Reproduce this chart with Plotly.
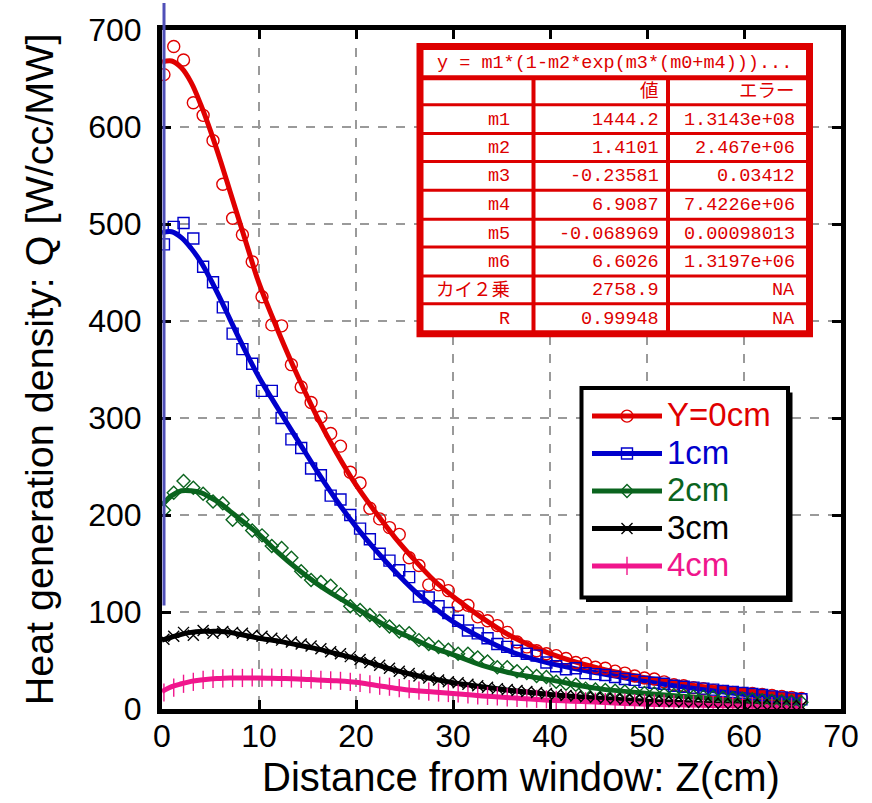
import plotly.graph_objects as go

# ---------------- data ----------------
Z = [0.2, 1.21, 2.22, 3.23, 4.24, 5.26, 6.27, 7.28, 8.29, 9.3, 10.31, 11.32, 12.33, 13.34,
     14.35, 15.37, 16.38, 17.39, 18.4, 19.41, 20.42, 21.43, 22.44, 23.45, 24.46, 25.48,
     26.49, 27.5, 28.51, 29.52, 30.53, 31.54, 32.55, 33.56, 34.57, 35.59, 36.6, 37.61,
     38.62, 39.63, 40.64, 41.65, 42.66, 43.67, 44.68, 45.7, 46.71, 47.72, 48.73, 49.74,
     50.75, 51.76, 52.77, 53.78, 54.79, 55.81, 56.82, 57.83, 58.84, 59.85, 60.86, 61.87,
     62.88, 63.89, 64.9, 65.92]

Q_Y0 = [654, 683, 669, 625, 612, 586, 541, 506, 489, 461, 425, 396, 395, 355, 332, 316,
        301, 284, 271, 244, 233, 207, 196, 187, 180, 156, 148, 128, 128, 122, 107, 107,
        95, 91, 86, 79, 69, 64, 60, 57, 55, 52, 48, 47, 43, 42, 39, 37, 34, 32, 31, 28,
        25, 24, 22, 21, 19, 18, 17, 16, 16, 15, 14, 13, 12, 11]
Q_Y1 = [479, 497, 501, 485, 456, 440, 414, 387, 371, 356, 328, 328, 300, 278, 269, 248,
        241, 220, 216, 200, 186, 175, 160, 153, 143, 136, 116, 115, 106, 99, 91, 81, 78,
        73, 67, 64, 60, 57, 55, 48, 44, 41, 42, 37, 36, 35, 33, 31, 30, 28, 27, 26, 24,
        23, 22, 21, 20, 18.5, 17.5, 16.5, 15.5, 14.5, 13, 12, 11, 10]
Q_Y2 = [205, 223, 235, 228, 222, 214, 212, 195, 195, 184, 179, 168, 166, 156, 142, 133,
        131, 127, 118, 106, 102, 97, 91, 85, 80, 78, 71, 67, 64, 61, 57, 57, 53, 49, 43,
        43, 39, 37, 34, 33, 28, 26, 25, 21, 20, 19.5, 18.7, 18, 17, 16.5, 16, 15, 14.5,
        14, 13, 12.5, 12, 11.5, 11, 10.5, 10, 9, 8.5, 8, 7.5, 7]
Q_Y3 = [72, 75, 79, 76, 81, 78, 80, 79, 78, 76, 75, 73, 71, 69, 67, 65, 62, 59, 57, 54,
        51, 48, 45, 42, 39, 36.5, 34, 32, 30, 28, 27, 25.5, 24, 22.5, 21, 20, 19, 18, 17,
        16, 15, 14, 13.5, 12.5, 12, 11, 10.5, 10, 9.5, 9, 8.5, 8, 7.5, 7, 6.8, 6.5, 6,
        5.8, 5.5, 5, 4.8, 4.5, 4, 3.8, 3.5, 3.2]
Q_Y4 = [17, 22, 26, 28, 30, 31, 31.5, 32, 32, 32.5, 32, 32.5, 32, 31.5, 31, 30.5, 30,
        29.5, 29, 28, 27, 25.5, 24, 23, 21.5, 20.5, 19, 18, 17, 16.5, 16, 15, 14, 13.5,
        13, 12, 11.5, 11, 10.5, 10, 9.5, 9, 8.5, 8, 7.5, 7, 7, 6.5, 6, 6, 5.5, 5.5, 5, 5,
        4.5, 4.5, 4, 4, 3.5, 3.5, 3, 3, 3, 2.5, 2.5, 2]

FIT_Z = [0, 1, 2, 3, 4, 5, 6, 7, 8, 9, 10, 12, 14, 16, 18, 20, 22, 24, 26, 28, 30, 33,
         36, 40, 45, 50, 55, 60, 66]
FIT_Y0 = [667, 668, 661, 646, 623, 596, 566, 534, 502, 470, 439, 389, 343, 301, 264, 231,
          203, 177, 154, 133, 116, 94, 75, 57, 42, 32, 24, 19, 13]
FIT_Y1 = [491, 492, 486, 475, 461, 443, 423, 402, 381, 361, 342, 309, 277, 245, 215, 188,
          164, 142, 122, 105, 90, 73, 59, 47, 37, 28, 21, 15, 9]
FIT_Y2 = [210, 220, 225, 225, 223, 218, 212, 204, 196, 188, 180, 161, 144, 129, 116, 104,
          92, 81, 72, 63, 56, 45, 37, 30, 21, 16, 12, 9, 6]
FIT_Y3 = [71, 74, 77, 79, 80, 80, 80, 79, 77, 75, 73, 70, 66, 62, 57, 52, 46, 40, 35, 31,
          27, 23, 19, 15, 11, 8, 6, 4.5, 3]
FIT_Y4 = [18, 23, 26, 28.5, 30, 31, 31.5, 32, 32, 32, 32, 31.5, 31, 30, 29, 27.5, 24.5,
          21.5, 19, 17.5, 16, 13.5, 11.5, 9, 7, 5, 4, 3, 2]

SERIES_NAMES = ["Y=0cm", "1cm", "2cm", "3cm", "4cm"]

FORMULA = "y = m1*(1-m2*exp(m3*(m0+m4)))..."
HEADER = ["", "値", "エラー"]
PARAM_NAMES = ["m1", "m2", "m3", "m4", "m5", "m6", "カイ２乗", "R"]
PARAM_VALUES = ["1444.2", "1.4101", "-0.23581", "6.9087", "-0.068969", "6.6026",
                "2758.9", "0.99948"]
PARAM_ERRORS = ["1.3143e+08", "2.467e+06", "0.03412", "7.4226e+06", "0.00098013",
                "1.3197e+06", "NA", "NA"]

X_TICKS = [0, 10, 20, 30, 40, 50, 60, 70]
Y_TICKS = [0, 100, 200, 300, 400, 500, 600, 700]
X_TITLE = "Distance from window: Z(cm)"
Y_TITLE = "Heat generation density: Q [W/cc/MW]"

# ---------------- style ----------------
COLORS = ["#E00000", "#0000CC", "#0A641E", "#000000", "#F0168C"]
SYMBOLS = ["circle-open", "square-open", "diamond-open", "x-thin-open", "line-ns-open"]
MSIZES = [12, 11, 10, 11, 13]
TABLE_RED = "#DD0000"
FONT = "Liberation Sans, Arial, sans-serif"
MONO = "Liberation Mono, Noto Sans CJK JP, monospace"

W, H = 872, 803
PL, PR, PT, PB = 162, 841, 27, 709


def fx(p):
    return (p - PL) / (PR - PL)


def fy(p):
    return (PB - p) / (PB - PT)


fig = go.Figure()

marker_sets = [Q_Y0, Q_Y1, Q_Y2, Q_Y3, Q_Y4]
fit_sets = [FIT_Y0, FIT_Y1, FIT_Y2, FIT_Y3, FIT_Y4]

for i in range(5):
    fig.add_trace(go.Scatter(
        x=FIT_Z, y=fit_sets[i], mode="lines",
        line=dict(color=COLORS[i], width=5, shape="spline", smoothing=1.0),
        showlegend=False, hoverinfo="skip"))
for i in range(5):
    fig.add_trace(go.Scatter(
        x=Z, y=marker_sets[i], mode="markers",
        marker=dict(symbol=SYMBOLS[i], size=MSIZES[i], color=COLORS[i],
                    line=dict(width=1.4, color=COLORS[i])),
        showlegend=False))
for i in range(5):
    fig.add_trace(go.Scatter(
        x=[None], y=[None], mode="lines+markers",
        name='<span style="color:%s;font-size:33px">%s</span>' % (COLORS[i], SERIES_NAMES[i]),
        line=dict(color=COLORS[i], width=5),
        marker=dict(symbol=SYMBOLS[i], size=MSIZES[i], color=COLORS[i],
                    line=dict(width=1.4, color=COLORS[i]))))

shapes = []
annotations = []

# blue stray vertical line
shapes.append(dict(type="line", xref="paper", yref="paper", x0=fx(164), x1=fx(164),
                   y0=fy(605), y1=fy(0), line=dict(color="#5050B8", width=3), layer="above"))

# legend frame with drop shadow
LG_L, LG_R, LG_T, LG_B = 581.5, 788, 386.5, 597
shapes.append(dict(type="rect", xref="paper", yref="paper", x0=fx(LG_L + 4.5), x1=fx(LG_R + 4.5),
                   y0=fy(LG_B + 4.5), y1=fy(LG_T + 4.5), fillcolor="black",
                   line=dict(width=0), layer="above"))
shapes.append(dict(type="rect", xref="paper", yref="paper", x0=fx(LG_L), x1=fx(LG_R),
                   y0=fy(LG_B), y1=fy(LG_T), fillcolor="white",
                   line=dict(color="black", width=4), layer="above"))

# table
T_L, T_R, T_T, T_B = 420, 809.5, 43.5, 332
ROW_LINES = [75, 102, 131, 159, 188, 217, 245, 274, 302]
COL_LINES = [533.5, 668]
shapes.append(dict(type="rect", xref="paper", yref="paper", x0=fx(T_L), x1=fx(T_R),
                   y0=fy(T_B), y1=fy(T_T), fillcolor="white",
                   line=dict(color=TABLE_RED, width=7), layer="above"))
for j, r in enumerate(ROW_LINES):
    shapes.append(dict(type="line", xref="paper", yref="paper", x0=fx(T_L), x1=fx(T_R),
                       y0=fy(r), y1=fy(r),
                       line=dict(color=TABLE_RED, width=5 if j == 0 else 3), layer="above"))
for c in COL_LINES:
    shapes.append(dict(type="line", xref="paper", yref="paper", x0=fx(c), x1=fx(c),
                       y0=fy(ROW_LINES[0]), y1=fy(T_B),
                       line=dict(color=TABLE_RED, width=4), layer="above"))

tfont = dict(family=MONO, size=18.5, color=TABLE_RED)
annotations.append(dict(text=FORMULA, xref="paper", yref="paper", x=fx((T_L + T_R) / 2), y=fy(61),
                        xanchor="center", yanchor="middle", showarrow=False, font=tfont))
row_edges = [ROW_LINES[0]] + ROW_LINES[1:] + [T_B]
col_right = [512, 661, 797]
for k, txt in enumerate(HEADER):
    if txt:
        annotations.append(dict(text=txt, xref="paper", yref="paper", x=fx(col_right[k]),
                                y=fy((row_edges[0] + row_edges[1]) / 2 + 1),
                                xanchor="right", yanchor="middle", showarrow=False, font=tfont))
for r in range(len(PARAM_NAMES)):
    yc = (row_edges[r + 1] + row_edges[r + 2]) / 2 + 1
    for k, txt in enumerate([PARAM_NAMES[r], PARAM_VALUES[r], PARAM_ERRORS[r]]):
        annotations.append(dict(text=txt, xref="paper", yref="paper", x=fx(col_right[k]), y=fy(yc),
                                xanchor="right", yanchor="middle", showarrow=False, font=tfont))

# x-axis title (placed as in the reference, slightly right of centre)
annotations.append(dict(text=X_TITLE, xref="paper", yref="paper", x=fx(521), y=fy(777),
                        xanchor="center", yanchor="middle", showarrow=False,
                        font=dict(family=FONT, size=40, color="black")))

axis_common = dict(
    showline=True, linewidth=5, linecolor="black", mirror="allticks",
    ticks="inside", ticklen=9, tickwidth=2.5, tickcolor="black",
    showgrid=True, gridcolor="#9A9A9A", gridwidth=2, griddash="dash",
    zeroline=False, tickfont=dict(family=FONT, size=32, color="black"),
)

fig.update_layout(
    width=W, height=H,
    margin=dict(l=PL, r=W - PR, t=PT, b=H - PB),
    paper_bgcolor="white", plot_bgcolor="white",
    font=dict(family=FONT, color="black"),
    xaxis=dict(range=[0, 70], tickvals=X_TICKS, ticktext=[str(v) for v in X_TICKS],
               ticklabelstandoff=-5, **axis_common),
    yaxis=dict(range=[0, 700], tickvals=Y_TICKS, ticktext=[str(v) for v in Y_TICKS],
               title=dict(text=Y_TITLE, font=dict(family=FONT, size=39.5), standoff=24),
               ticklabelstandoff=9, **axis_common),
    legend=dict(x=fx(587), y=fy(391), xanchor="left", yanchor="top",
                bgcolor="rgba(0,0,0,0)", borderwidth=0,
                font=dict(family=FONT, size=26.5), itemwidth=70, tracegroupgap=0),
    shapes=shapes, annotations=annotations,
)

fig.write_html("out.html")
